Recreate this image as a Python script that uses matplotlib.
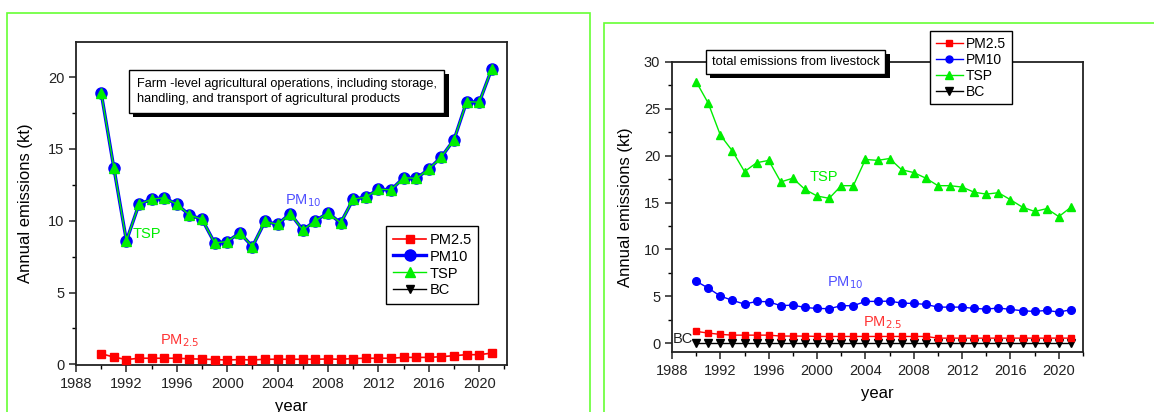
import matplotlib
matplotlib.use("Agg")
import matplotlib.pyplot as plt
import matplotlib.patheffects as pe
from matplotlib.lines import Line2D
from matplotlib.patches import Rectangle
from matplotlib.ticker import MultipleLocator

plt.rcParams['font.family'] = ['Liberation Sans', 'DejaVu Sans']

years = list(range(1990, 2022))

# Left panel: farm-level agricultural operations
farm_pm10 = [18.9, 13.7, 8.6, 11.15, 11.5, 11.6, 11.15, 10.4, 10.1, 8.45, 8.55, 9.15, 8.2,
             9.95, 9.75, 10.5, 9.35, 10.0, 10.55, 9.85, 11.5, 11.65, 12.2, 12.15, 13.0, 12.95,
             13.6, 14.45, 15.65, 18.3, 18.25, 20.6]
farm_tsp = [18.9, 13.7, 8.6, 11.15, 11.5, 11.6, 11.15, 10.4, 10.1, 8.45, 8.55, 9.15, 8.2,
            9.95, 9.75, 10.5, 9.35, 10.0, 10.55, 9.85, 11.5, 11.65, 12.2, 12.15, 13.0, 12.95,
            13.6, 14.45, 15.65, 18.3, 18.25, 20.6]
farm_pm25 = [0.74, 0.5, 0.33, 0.42, 0.42, 0.42, 0.42, 0.38, 0.36, 0.33, 0.3, 0.33, 0.3,
             0.35, 0.35, 0.35, 0.35, 0.35, 0.37, 0.35, 0.4, 0.42, 0.42, 0.42, 0.48, 0.48,
             0.48, 0.53, 0.6, 0.67, 0.67, 0.78]

# Right panel: total emissions from livestock
live_tsp = [27.9, 25.6, 22.2, 20.5, 18.3, 19.25, 19.5, 17.2, 17.6, 16.4, 15.7, 15.45, 16.8,
            16.8, 19.6, 19.5, 19.7, 18.5, 18.2, 17.6, 16.8, 16.8, 16.65, 16.1, 15.9, 16.05,
            15.3, 14.5, 14.05, 14.35, 13.5, 14.5]
live_pm10 = [6.6, 5.87, 5.02, 4.56, 4.16, 4.45, 4.41, 3.99, 4.06, 3.8, 3.7, 3.67, 3.99,
             3.99, 4.45, 4.45, 4.48, 4.27, 4.23, 4.13, 3.84, 3.84, 3.84, 3.7, 3.63, 3.74,
             3.6, 3.45, 3.38, 3.49, 3.31, 3.56]
live_pm25 = [1.25, 1.07, 0.93, 0.85, 0.85, 0.85, 0.85, 0.75, 0.75, 0.75, 0.71, 0.71, 0.71,
             0.71, 0.71, 0.71, 0.71, 0.71, 0.71, 0.71, 0.53, 0.53, 0.53, 0.53, 0.53, 0.53,
             0.53, 0.53, 0.53, 0.53, 0.53, 0.53]
live_bc = [0.0] * 32

legend_labels = ['PM2.5', 'PM10', 'TSP', 'BC']
farm_title = 'Farm -level agricultural operations, including storage,\nhandling, and transport of agricultural products'
live_title = 'total emissions from livestock'

RED = '#ff0000'
BLUE = '#0000ff'
GREEN = '#00ee00'
LGREEN = '#66ff33'

fig = plt.figure(figsize=(11.54, 4.12), dpi=100)

# green panel frames
fig.add_artist(Rectangle((7/1154, -0.1), (590-7)/1154, 1.1 - 13/412, transform=fig.transFigure,
                         fill=False, edgecolor=LGREEN, lw=1.2))
fig.add_artist(Rectangle((604/1154, -0.1), 0.5, 1.1 - 23/412, transform=fig.transFigure,
                         fill=False, edgecolor=LGREEN, lw=1.2))

shadow = [pe.SimplePatchShadow(offset=(3, -3), shadow_rgbFace='black', alpha=1), pe.Normal()]


def style_axes(ax, ymajor):
    for s in ax.spines.values():
        s.set_linewidth(1.3)
        s.set_color('#222222')
    ax.xaxis.set_major_locator(MultipleLocator(4))
    ax.xaxis.set_minor_locator(MultipleLocator(2))
    ax.yaxis.set_major_locator(MultipleLocator(ymajor))
    ax.yaxis.set_minor_locator(MultipleLocator(ymajor / 2))
    ax.tick_params(axis='both', which='major', direction='out', length=5, width=1.1,
                   labelsize=10.5, colors='#222222')
    ax.tick_params(axis='both', which='minor', direction='out', length=3, width=1.0)
    ax.tick_params(top=False, right=False)
    ax.set_xlabel('year', fontsize=12, labelpad=6)
    ax.set_ylabel('Annual emissions (kt)', fontsize=12)


# ---------- Left panel ----------
ax1 = fig.add_axes([76/1154, 1 - 365/412, (507-76)/1154, (365-42)/412])
ax1.plot(years, farm_pm25, '-s', color=RED, lw=1.2, ms=5.5, zorder=3)
ax1.plot(years, farm_pm10, '-o', color=BLUE, lw=2.4, ms=8, zorder=4)
ax1.plot(years, farm_tsp, '-^', color=GREEN, lw=1.0, ms=6.5, zorder=5)
ax1.set_xlim(1988, 2022.2)
ax1.set_ylim(-0.05, 22.45)
style_axes(ax1, 5)
ax1.yaxis.set_label_coords(-0.1, 0.5)

ax1.text(1992.5, 9.1, 'TSP', color=GREEN, fontsize=10.5, va='center')
ax1.text(2004.6, 11.4, 'PM$_{10}$', color='#5050ff', fontsize=10.5, va='center')
ax1.text(1994.7, 1.67, 'PM$_{2.5}$', color='#ff3333', fontsize=10.5, va='center')

t1 = ax1.text(0.141, 0.89, farm_title, transform=ax1.transAxes, fontsize=9.2, va='top', ha='left',
              linespacing=1.4,
              bbox=dict(boxstyle='square,pad=0.6', facecolor='white', edgecolor='black', lw=1.0))
t1.get_bbox_patch().set_path_effects(shadow)

h1 = [Line2D([], [], color=RED, marker='s', lw=1.2, ms=5.5),
      Line2D([], [], color=BLUE, marker='o', lw=2.4, ms=8),
      Line2D([], [], color=GREEN, marker='^', lw=1.0, ms=6.5),
      Line2D([], [], color='black', marker='v', lw=1.0, ms=6)]
leg1 = ax1.legend(h1, legend_labels, loc='upper left', bbox_to_anchor=(0.72, 0.43),
                  borderaxespad=0, fontsize=10.5, frameon=True, fancybox=False, edgecolor='black',
                  framealpha=1, handlelength=2.3, handletextpad=0.2, labelspacing=0.2, borderpad=0.45)
leg1.get_frame().set_linewidth(1.0)

# ---------- Right panel ----------
ax2 = fig.add_axes([672/1154, 1 - 352/412, (1083-672)/1154, (352-62)/412])
ax2.plot(years, live_bc, '-v', color='black', lw=1.0, ms=5.5, zorder=3)
ax2.plot(years, live_pm25, '-s', color=RED, lw=1.0, ms=5, zorder=4)
ax2.plot(years, live_pm10, '-o', color=BLUE, lw=1.0, ms=5.5, zorder=5)
ax2.plot(years, live_tsp, '-^', color=GREEN, lw=1.0, ms=6, zorder=6)
ax2.set_xlim(1988, 2022)
ax2.set_ylim(-0.95, 30)
style_axes(ax2, 5)
ax2.yaxis.set_label_coords(-0.095, 0.5)

ax2.text(1999.4, 17.7, 'TSP', color=GREEN, fontsize=10.5, va='center')
ax2.text(2000.8, 6.4, 'PM$_{10}$', color='#5050ff', fontsize=10.5, va='center')
ax2.text(2003.8, 2.2, 'PM$_{2.5}$', color='#ff3333', fontsize=10.5, va='center')
ax2.text(1988.05, 0.4, 'BC', color='#222222', fontsize=10.5, va='center')

t2 = ax2.text(0.097, 1.0, live_title, transform=ax2.transAxes, fontsize=9.3, va='center', ha='left',
              bbox=dict(boxstyle='square,pad=0.45', facecolor='white', edgecolor='black', lw=1.0))
t2.get_bbox_patch().set_path_effects(shadow)

h2 = [Line2D([], [], color=RED, marker='s', lw=1.0, ms=5),
      Line2D([], [], color=BLUE, marker='o', lw=1.0, ms=5),
      Line2D([], [], color=GREEN, marker='^', lw=1.0, ms=6),
      Line2D([], [], color='black', marker='v', lw=1.0, ms=6)]
leg2 = ax2.legend(h2, legend_labels, loc='upper left', bbox_to_anchor=((930-672)/411, (352-31)/290),
                  borderaxespad=0, fontsize=10, frameon=True, fancybox=False, edgecolor='black',
                  framealpha=1, handlelength=2.0, handletextpad=0.2, labelspacing=0.15, borderpad=0.4)
leg2.get_frame().set_linewidth(1.0)

fig.savefig('out.png', dpi=100)
